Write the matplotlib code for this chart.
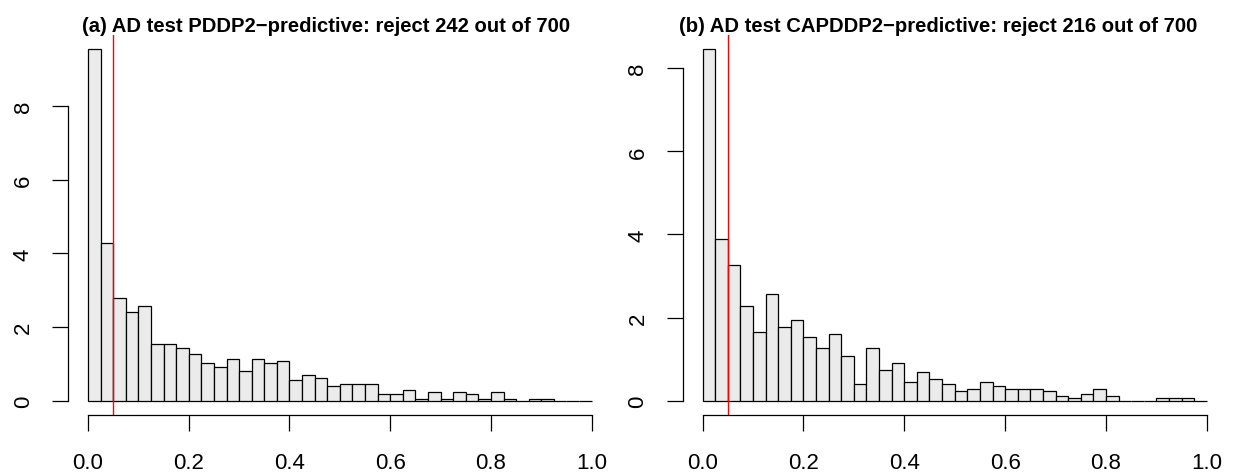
import numpy as np
import matplotlib
matplotlib.use("Agg")
import matplotlib.pyplot as plt

plt.rcParams['font.family'] = ['Liberation Sans', 'DejaVu Sans']

# 40 bins of width 0.025 on [0, 1], counts of 700 p-values per bin
bin_edges = np.linspace(0, 1, 41)
counts_pddp = [167, 75, 49, 42, 45, 27, 27, 25, 22, 18,
               16, 20, 14, 20, 18, 19, 10, 12, 11, 7,
               8, 8, 8, 3, 3, 5, 1, 4, 1, 4,
               3, 1, 4, 1, 0, 1, 1, 0, 0, 0]
counts_capddp = [148, 68, 57, 40, 29, 45, 31, 34, 27, 22,
                 28, 19, 7, 22, 13, 16, 8, 12, 9, 7,
                 4, 5, 8, 6, 5, 5, 5, 4, 2, 1,
                 3, 5, 2, 0, 0, 0, 1, 1, 1, 0]
titles = ["(a) AD test PDDP2\u2212predictive: reject 242 out of 700",
          "(b) AD test CAPDDP2\u2212predictive: reject 216 out of 700"]
alpha = 0.05

fig = plt.figure(figsize=(12.4, 4.77), dpi=100)
W, H = 1240, 477
# plot regions in pixels: (left, right, top, bottom), plus title centre in axes fraction
regions = [(67.9, 611.8, 36.2, 415.8, 0.475), (682.5, 1226.9, 36.2, 415.8, 0.47)]

for (l, r, t, b, tx), counts, title in zip(regions, [counts_pddp, counts_capddp], titles):
    ax = fig.add_axes([l / W, (H - b) / H, (r - l) / W, (b - t) / H])
    dens, _, _ = ax.hist(bin_edges[:-1], bins=bin_edges, weights=counts, density=True,
                         facecolor='#ebebeb', edgecolor='black', linewidth=0.9)
    ymax = dens.max()
    ax.set_xlim(-0.04, 1.04)
    ax.set_ylim(-0.04 * ymax, 1.04 * ymax)
    ax.axvline(alpha, color='red', linewidth=1)

    # R-like axes: no box, axis lines only across the tick range
    ax.spines['top'].set_visible(False)
    ax.spines['right'].set_visible(False)
    ax.spines['left'].set_bounds(0, 8)
    ax.spines['bottom'].set_bounds(0, 1)
    for s in ['left', 'bottom']:
        ax.spines[s].set_linewidth(0.9)
    ax.set_xticks(np.arange(0, 1.01, 0.2))
    ax.set_xticklabels(['0.0', '0.2', '0.4', '0.6', '0.8', '1.0'])
    ax.set_yticks([0, 2, 4, 6, 8])
    ax.tick_params(axis='both', length=11.5, width=0.9, labelsize=16)
    ax.tick_params(axis='x', pad=15)
    ax.tick_params(axis='y', pad=13)
    for lab in ax.get_yticklabels():
        lab.set_rotation(90)
        lab.set_va('center')
    ax.set_title(title, fontsize=14.6, fontweight='bold', pad=3.2, x=tx)

fig.savefig('out.png', dpi=100)
